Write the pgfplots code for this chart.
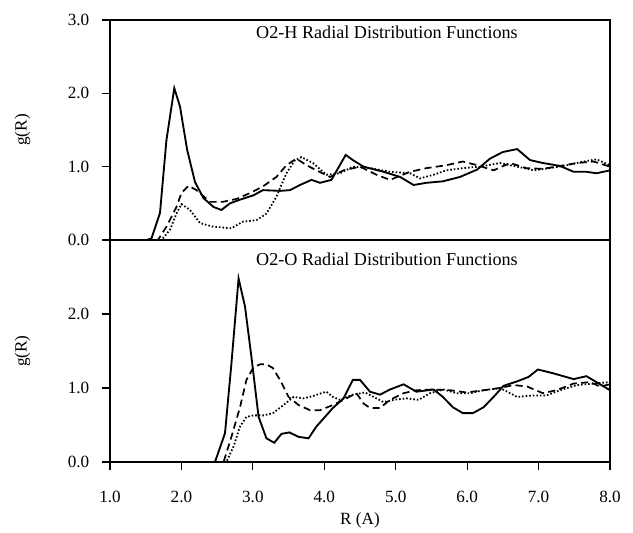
\documentclass[border=0pt]{standalone}
\usepackage{fontspec}
\setmainfont{Liberation Serif}
\usepackage{pgfplots}
\pgfplotsset{compat=1.18}

\pgfplotsset{
  rdf/.style={
    scale only axis, width=350pt,
    xmin=1, xmax=8, ymin=0, ymax=3,
    axis line style={line width=1pt},
    tick align=outside, tick pos=left,
    major tick length=5.5pt,
    tick style={line width=0.8pt, black},
    /pgf/number format/assume math mode=true,
    /pgf/number format/.cd, fixed, fixed zerofill, precision=1, /pgfplots/.cd,
    tick label style={font=\fontsize{12}{14}\selectfont},
    yticklabel style={xshift=-5.5pt},
    label style={font=\fontsize{12}{14}\selectfont},
    ylabel={g(R)},
    ylabel style={at={(axis description cs:-0.175,0.5)}, anchor=center},
  },
}
\tikzset{
  solidl/.style={black, line width=1.3pt},
  dashl/.style={black, line width=1.2pt, dash pattern=on 5pt off 3pt},
  dotl/.style={black, line width=1.25pt, dash pattern=on 1.1pt off 1.4pt},
  ttl/.style={anchor=base, font=\fontsize{12.7}{15}\selectfont},
}

\begin{document}
\begin{tikzpicture}
\useasboundingbox (-77pt,-49pt) rectangle (366.1pt,323.4pt);

% bottom panel: O2-O
\begin{axis}[rdf, name=bot, at={(0,0)}, anchor=south west, height=155.4pt,
  ytick={0,1,2}, xtick={1,2,...,8},
  xticklabel style={yshift=-11pt},
  xlabel={R (A)},
  xlabel style={at={(axis description cs:0.5,0)}, anchor=center, yshift=-40.6pt}]
\addplot[solidl] coordinates {
(1.0,0) (2.47,0) (2.61,0.39) (2.70,1.33) (2.80,2.48) (2.89,2.10) (2.98,1.42)
(3.08,0.61) (3.19,0.32) (3.30,0.26) (3.40,0.38) (3.51,0.40) (3.64,0.34) (3.78,0.32)
(3.89,0.48) (4.01,0.61) (4.12,0.73) (4.27,0.86) (4.40,1.11) (4.50,1.11) (4.64,0.95)
(4.78,0.91) (4.92,0.98) (5.11,1.05) (5.29,0.95) (5.53,0.98) (5.66,0.88) (5.80,0.74)
(5.94,0.66) (6.08,0.66) (6.23,0.74) (6.37,0.88) (6.51,1.03) (6.70,1.09) (6.86,1.15)
(6.99,1.25) (7.20,1.20) (7.49,1.12) (7.67,1.16) (7.81,1.08) (8.0,0.97)};
\addplot[dashl] coordinates {
(1.0,0) (2.59,0) (2.70,0.34) (2.82,0.74) (2.91,1.11) (3.01,1.28) (3.10,1.32)
(3.19,1.32) (3.28,1.27) (3.38,1.11) (3.50,0.88) (3.64,0.77) (3.80,0.70) (3.94,0.70)
(4.12,0.77) (4.31,0.86) (4.45,0.93) (4.55,0.79) (4.64,0.73) (4.78,0.73) (4.92,0.84)
(5.11,0.93) (5.29,0.97) (5.53,0.98) (5.76,0.97) (5.99,0.94) (6.23,0.97) (6.46,1.00)
(6.65,1.04) (6.84,1.02) (7.06,0.93) (7.25,0.97) (7.49,1.06) (7.72,1.08) (7.86,1.02)
(8.0,1.05)};
\addplot[dotl] coordinates {
(1.0,0) (2.63,0) (2.73,0.21) (2.82,0.48) (2.91,0.61) (3.01,0.63) (3.15,0.63)
(3.28,0.66) (3.43,0.77) (3.57,0.88) (3.71,0.86) (3.84,0.89) (3.96,0.93) (4.03,0.95)
(4.12,0.88) (4.22,0.84) (4.40,0.91) (4.57,0.94) (4.69,0.88) (4.83,0.81) (4.97,0.84)
(5.15,0.86) (5.32,0.84) (5.48,0.93) (5.67,0.98) (5.85,0.93) (6.04,0.93) (6.23,0.97)
(6.46,1.00) (6.70,0.88) (6.93,0.90) (7.11,0.90) (7.30,0.97) (7.54,1.04) (7.77,1.06)
(8.0,1.08)};
\node[ttl] at (axis description cs:0.554,0.883) {O2-O Radial Distribution Functions};
\end{axis}

% top panel: O2-H
\begin{axis}[rdf, name=top, at={(0,155.4pt)}, anchor=south west, height=154pt,
  ytick={0,1,2,3}, xtick=\empty]
\addplot[solidl] coordinates {
(1.0,0) (1.51,0) (1.58,0.02) (1.70,0.37) (1.79,1.36) (1.90,2.07) (1.98,1.82)
(2.08,1.23) (2.19,0.79) (2.31,0.57) (2.45,0.45) (2.56,0.41) (2.68,0.50) (2.82,0.55)
(3.01,0.61) (3.14,0.68) (3.38,0.67) (3.52,0.68) (3.66,0.75) (3.82,0.82) (3.94,0.78)
(4.10,0.82) (4.30,1.16) (4.40,1.09) (4.55,1.00) (4.83,0.93) (5.06,0.86) (5.25,0.75)
(5.43,0.78) (5.66,0.80) (5.90,0.86) (6.14,0.96) (6.32,1.11) (6.50,1.20) (6.70,1.24)
(6.88,1.09) (7.06,1.05) (7.30,1.01) (7.49,0.93) (7.67,0.93) (7.81,0.91) (8.0,0.95)};
\addplot[dashl] coordinates {
(1.0,0) (1.67,0) (1.79,0.18) (1.93,0.45) (2.00,0.64) (2.10,0.74) (2.21,0.68)
(2.40,0.52) (2.58,0.52) (2.77,0.56) (2.96,0.64) (3.14,0.73) (3.33,0.86) (3.47,1.02)
(3.61,1.11) (3.75,1.02) (3.89,0.95) (4.08,0.86) (4.27,0.95) (4.50,1.00) (4.73,0.89)
(4.92,0.82) (5.20,0.93) (5.43,0.98) (5.71,1.02) (5.94,1.07) (6.14,1.02) (6.37,0.95)
(6.60,1.05) (6.83,0.98) (7.06,0.97) (7.30,1.01) (7.54,1.05) (7.77,1.07) (8.0,1.00)};
\addplot[dotl] coordinates {
(1.0,0) (1.72,0) (1.84,0.14) (1.93,0.36) (2.00,0.49) (2.12,0.41) (2.26,0.23)
(2.45,0.18) (2.70,0.16) (2.86,0.25) (3.05,0.27) (3.19,0.36) (3.33,0.59) (3.47,0.91)
(3.59,1.09) (3.68,1.13) (3.84,1.05) (4.03,0.89) (4.22,0.91) (4.40,1.00) (4.64,0.98)
(4.92,0.93) (5.20,0.91) (5.34,0.84) (5.53,0.89) (5.71,0.95) (5.94,0.98) (6.18,1.00)
(6.46,1.05) (6.70,1.00) (6.93,0.95) (7.16,0.98) (7.40,1.02) (7.63,1.07) (7.81,1.10)
(8.0,1.02)};
\node[ttl] at (axis description cs:0.554,0.918) {O2-H Radial Distribution Functions};
\end{axis}
\end{tikzpicture}
\end{document}
